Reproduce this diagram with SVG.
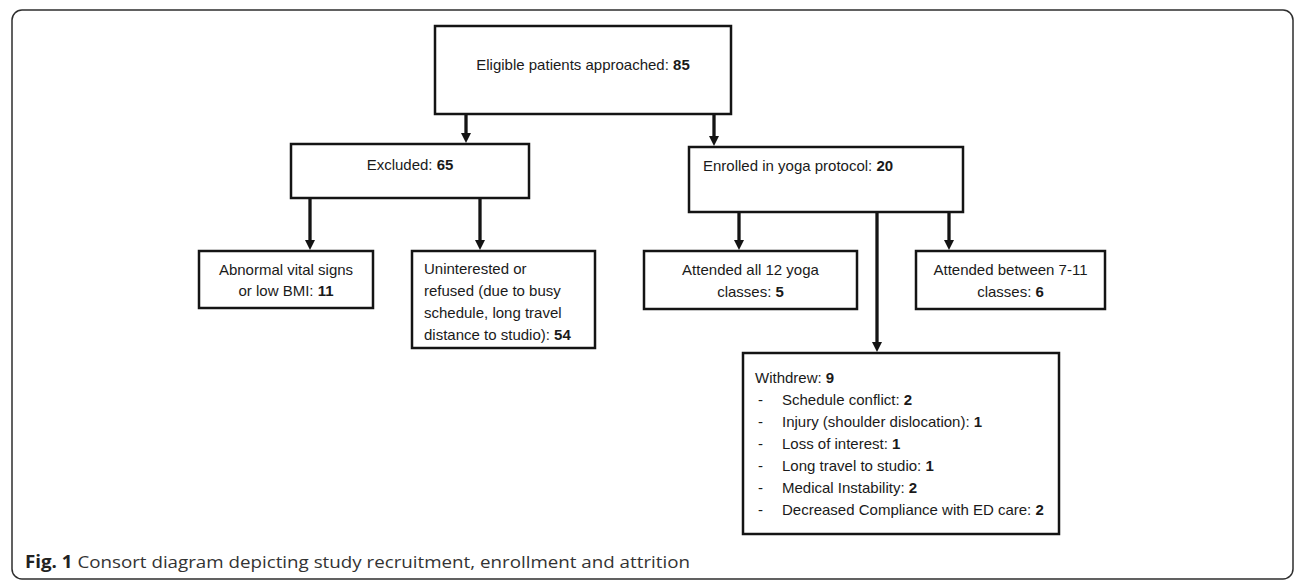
<svg xmlns="http://www.w3.org/2000/svg" width="1295" height="580" viewBox="0 0 1295 580">
<style>
.frame{fill:#fff;stroke:#2e2e2e;stroke-width:1.5}
.box{fill:#fff;stroke:#141414;stroke-width:2.5}
.t{font-family:"Liberation Sans",Arial,sans-serif;font-size:15px;fill:#1a1a1a}
.c{text-anchor:middle}
.b{font-weight:bold}
.con line{stroke:#141414;stroke-width:3.3;fill:none}
.cap{font-family:"Open Sans","Liberation Sans",Arial,sans-serif;font-size:17px;fill:#333}
</style>
<defs>
<marker id="arr" viewBox="0 0 10 10" refX="1" refY="5" markerWidth="10" markerHeight="10" markerUnits="userSpaceOnUse" orient="auto">
<path d="M0,0 L10,5 L0,10 z" fill="#141414"/>
</marker>
</defs>
<rect class="frame" x="12" y="10" width="1281" height="569" rx="10"/>

<g id="eligible">
<rect class="box" x="435" y="26" width="296" height="88"/>
<text class="t c" x="583" y="70">Eligible patients approached: <tspan class="b">85</tspan></text>
</g>
<g id="excluded">
<rect class="box" x="291" y="144" width="238" height="54"/>
<text class="t c" x="410" y="170">Excluded: <tspan class="b">65</tspan></text>
</g>
<g id="enrolled">
<rect class="box" x="689" y="147" width="274" height="65"/>
<text class="t" x="703" y="171">Enrolled in yoga protocol: <tspan class="b">20</tspan></text>
</g>
<g id="abnormal">
<rect class="box" x="199" y="251" width="174" height="57"/>
<text class="t c" x="286" y="275">Abnormal vital signs</text>
<text class="t c" x="286" y="296">or low BMI: <tspan class="b">11</tspan></text>
</g>
<g id="uninterested">
<rect class="box" x="412" y="251" width="183" height="97"/>
<text class="t" x="424" y="274">Uninterested or</text>
<text class="t" x="424" y="296">refused (due to busy</text>
<text class="t" x="424" y="318">schedule, long travel</text>
<text class="t" x="424" y="340">distance to studio): <tspan class="b">54</tspan></text>
</g>
<g id="attended-all">
<rect class="box" x="644" y="251" width="213" height="58"/>
<text class="t c" x="750.5" y="275">Attended all 12 yoga</text>
<text class="t c" x="750.5" y="297">classes: <tspan class="b">5</tspan></text>
</g>
<g id="attended-7-11">
<rect class="box" x="916" y="251" width="189" height="58"/>
<text class="t c" x="1010.5" y="275">Attended between 7-11</text>
<text class="t c" x="1010.5" y="297">classes: <tspan class="b">6</tspan></text>
</g>
<g id="withdrew">
<rect class="box" x="743" y="353" width="316" height="181"/>
<text class="t" x="755" y="383">Withdrew: <tspan class="b">9</tspan></text>
<text class="t" x="758" y="405">-</text><text class="t" x="782" y="405">Schedule conflict: <tspan class="b">2</tspan></text>
<text class="t" x="758" y="427">-</text><text class="t" x="782" y="427">Injury (shoulder dislocation): <tspan class="b">1</tspan></text>
<text class="t" x="758" y="449">-</text><text class="t" x="782" y="449">Loss of interest: <tspan class="b">1</tspan></text>
<text class="t" x="758" y="471">-</text><text class="t" x="782" y="471">Long travel to studio: <tspan class="b">1</tspan></text>
<text class="t" x="758" y="493">-</text><text class="t" x="782" y="493">Medical Instability: <tspan class="b">2</tspan></text>
<text class="t" x="758" y="515">-</text><text class="t" x="782" y="515">Decreased Compliance with ED care: <tspan class="b">2</tspan></text>
</g>

<g id="connectors" class="con">
<line x1="466" y1="115" x2="466" y2="134" marker-end="url(#arr)"/>
<line x1="714" y1="115" x2="714" y2="137" marker-end="url(#arr)"/>
<line x1="310" y1="199" x2="310" y2="241" marker-end="url(#arr)"/>
<line x1="480" y1="199" x2="480" y2="241" marker-end="url(#arr)"/>
<line x1="739" y1="213" x2="739" y2="241" marker-end="url(#arr)"/>
<line x1="949" y1="213" x2="949" y2="241" marker-end="url(#arr)"/>
<line x1="877" y1="213" x2="877" y2="343" marker-end="url(#arr)"/>
</g>

<text class="cap" x="25" y="568" textLength="665" lengthAdjust="spacingAndGlyphs"><tspan font-weight="bold" fill="#222">Fig. 1</tspan> Consort diagram depicting study recruitment, enrollment and attrition</text>
</svg>
